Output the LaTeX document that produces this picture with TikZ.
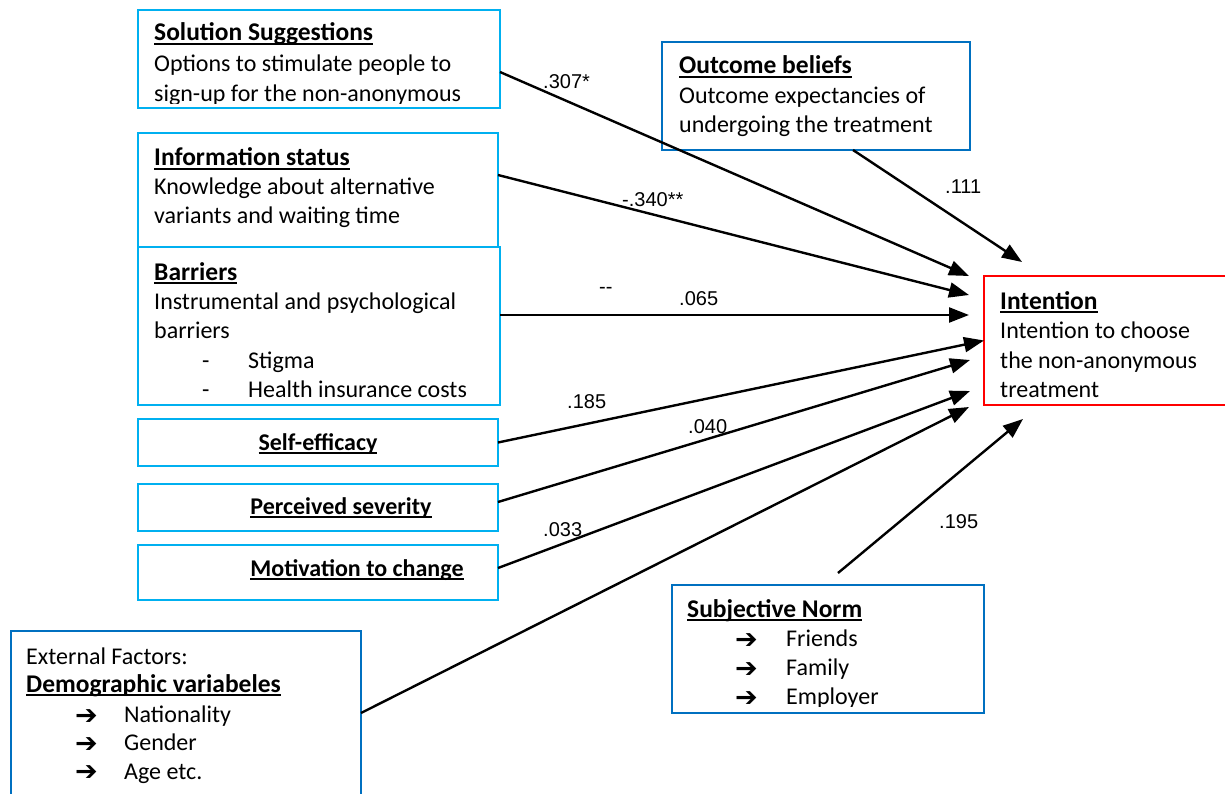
\documentclass[tikz,border=0pt]{standalone}
\usepackage{fontspec}
\setmainfont{Carlito}
\newfontfamily\labfam{Liberation Sans}
\newfontfamily\symfam{DejaVu Sans}
\usetikzlibrary{arrows.meta}
\definecolor{cyanb}{HTML}{00B0F0}
\definecolor{blueb}{HTML}{0070C0}
\definecolor{redb}{HTML}{FF0000}
\newcommand\bodyfont{\fontsize{24}{29}\selectfont}
\newcommand\headfont{\fontsize{25.5}{29}\selectfont\bfseries}
\newcommand\labfont{\labfam\fontsize{20}{24}\selectfont}
\newcommand\ulx[1]{\setbox0\hbox{#1}\rlap{\rule[-3.8pt]{\wd0}{2pt}}\box0}
\newcommand\arr{{\symfam\fontsize{27}{28}\selectfont ➔}}
\tikzset{
  boxc/.style={draw=cyanb, line width=2pt, rectangle, inner sep=0pt, outer sep=0pt, anchor=north west},
  boxb/.style={draw=blueb, line width=2pt, rectangle, inner sep=0pt, outer sep=0pt, anchor=north west},
  boxr/.style={draw=redb, line width=2pt, rectangle, inner sep=0pt, outer sep=0pt, anchor=north west},
  txt/.style={anchor=base west, inner sep=0pt, font=\bodyfont},
  htxt/.style={anchor=base west, inner sep=0pt, font=\headfont},
  ctxt/.style={anchor=base, inner sep=0pt, font=\bodyfont\bfseries},
  lab/.style={anchor=base west, inner sep=0pt, font=\labfont},
  conn/.style={line width=2.4pt, -{Triangle[length=20pt,width=15pt]}},
}
\begin{document}
\begin{tikzpicture}[x=1pt,y=-1pt]
\useasboundingbox (0,0) rectangle (1225,794);
\clip (0,0) rectangle (1225,794);
% boxes
\node[boxc, minimum width=362pt, minimum height=98pt] (ss) at (138,10) {};
\node[boxc, minimum width=360pt, minimum height=114pt] (info) at (138,133) {};
\node[boxc, minimum width=362pt, minimum height=158pt] (bar) at (138,247) {};
\node[boxc, minimum width=360pt, minimum height=47pt] (se) at (138,419) {};
\node[boxc, minimum width=360pt, minimum height=47pt] (ps) at (138,484) {};
\node[boxc, minimum width=360pt, minimum height=55pt] (mc) at (138,545) {};
\node[boxb, minimum width=308pt, minimum height=108pt] (ob) at (662,42) {};
\node[boxr, minimum width=260pt, minimum height=129pt] (int) at (984,276) {};
\node[boxb, minimum width=350pt, minimum height=200pt] (ext) at (11,631) {};
\node[boxb, minimum width=312pt, minimum height=128pt] (sn) at (672,585) {};
% texts
\begin{scope}
\clip (139,11) rectangle (499,103.5);
\node[htxt] (ss1) at (154,41) {\ulx{Solution Suggestions}};
\node[txt] (ss2) at (154,72) {Options to stimulate people to};
\node[txt] (ss3) at (154,101.5) {sign-up for the non-anonymous};
\end{scope}
\node[htxt] (in1) at (154,166) {\ulx{Information status}};
\node[txt] (in2) at (154,195) {Knowledge about alternative};
\node[txt] (in3) at (154,224) {variants and waiting time};
\node[htxt] (ba1) at (154,280) {\ulx{Barriers}};
\node[txt] (ba2) at (154,309) {Instrumental and psychological};
\node[txt] (ba3) at (154,338) {barriers};
\node[txt] (ba4d) at (202,368) {-};
\node[txt] (ba4) at (248,368) {Stigma};
\node[txt] (ba5d) at (202,397) {-};
\node[txt] (ba5) at (248,397) {Health insurance costs};
\node[ctxt] (set) at (318,450) {\ulx{Self-efficacy}};
\node[ctxt] (pst) at (341,514) {\ulx{Perceived severity}};
\node[ctxt] (mct) at (357,576) {\ulx{Motivation to change}};
\node[htxt] (ob1) at (679,74) {\ulx{Outcome beliefs}};
\node[txt] (ob2) at (679,104) {Outcome expectancies of};
\node[txt] (ob3) at (679,133) {undergoing the treatment};
\node[htxt] (it1) at (1000,309) {\ulx{Intention}};
\node[txt] (it2) at (1000,338) {Intention to choose};
\node[txt] (it3) at (1000,368) {the non-anonymous};
\node[txt] (it4) at (1000,397) {treatment};
\node[txt] (ex1) at (26,664) {External Factors:};
\node[htxt] (ex2) at (26,692) {\ulx{Demographic variabeles}};
\node[txt] (ex3a) at (75,724) {\arr};
\node[txt] (ex3) at (124,722) {Nationality};
\node[txt] (ex4a) at (75,752) {\arr};
\node[txt] (ex4) at (124,750) {Gender};
\node[txt] (ex5a) at (75,780) {\arr};
\node[txt] (ex5) at (124,779) {Age etc.};
\begin{scope}
\clip (673,586) rectangle (983,706);
\node[htxt] (sn1) at (687,617) {\ulx{Subjective Norm}};
\node[txt] (sn2a) at (735,648) {\arr};
\node[txt] (sn2) at (786,646) {Friends};
\node[txt] (sn3a) at (735,677) {\arr};
\node[txt] (sn3) at (786,675) {Family};
\node[txt] (sn4a) at (735,706) {\arr};
\node[txt] (sn4) at (786,704.5) {Employer};
\end{scope}
% arrow targets
\coordinate (t1) at (969,276);
\coordinate (t2) at (969,295);
\coordinate (t3) at (969,315);
\coordinate (t5) at (970,360);
\coordinate (t6) at (970,391);
\coordinate (t7) at (969,407);
\coordinate (t8) at (1022,262);
\coordinate (t9) at (1023,419);
% connectors
\draw[conn] ([yshift=-13pt]ss.east) -- (t1);
\draw[conn] ([yshift=15pt]info.east) -- (t2);
\draw[conn] ([yshift=11pt]bar.east) -- (t3);
\draw[conn] (se.east) -- (int.west);
\draw[conn] ([yshift=5.5pt]ps.east) -- (t5);
\draw[conn] ([yshift=4.5pt]mc.east) -- (t6);
\draw[conn] ([yshift=18pt]ext.east) -- (t7);
\draw[conn] ([xshift=37pt]ob.south) -- (t8);
\draw[conn] ([xshift=10pt,yshift=12pt]sn.north) -- (t9);
% labels
\node[lab] (l1) at (543,89) {.307*};
\node[lab] (l2) at (622,207) {-.340**};
\node[lab] (l3) at (599,293) {--};
\node[lab] (l4) at (679,305) {.065};
\node[lab] (l5) at (945,194) {.111};
\node[lab] (l6) at (567,408) {.185};
\node[lab] (l7) at (688,433) {.040};
\node[lab] (l8) at (543,536) {.033};
\node[lab] (l9) at (939,528) {.195};
\end{tikzpicture}
\end{document}
